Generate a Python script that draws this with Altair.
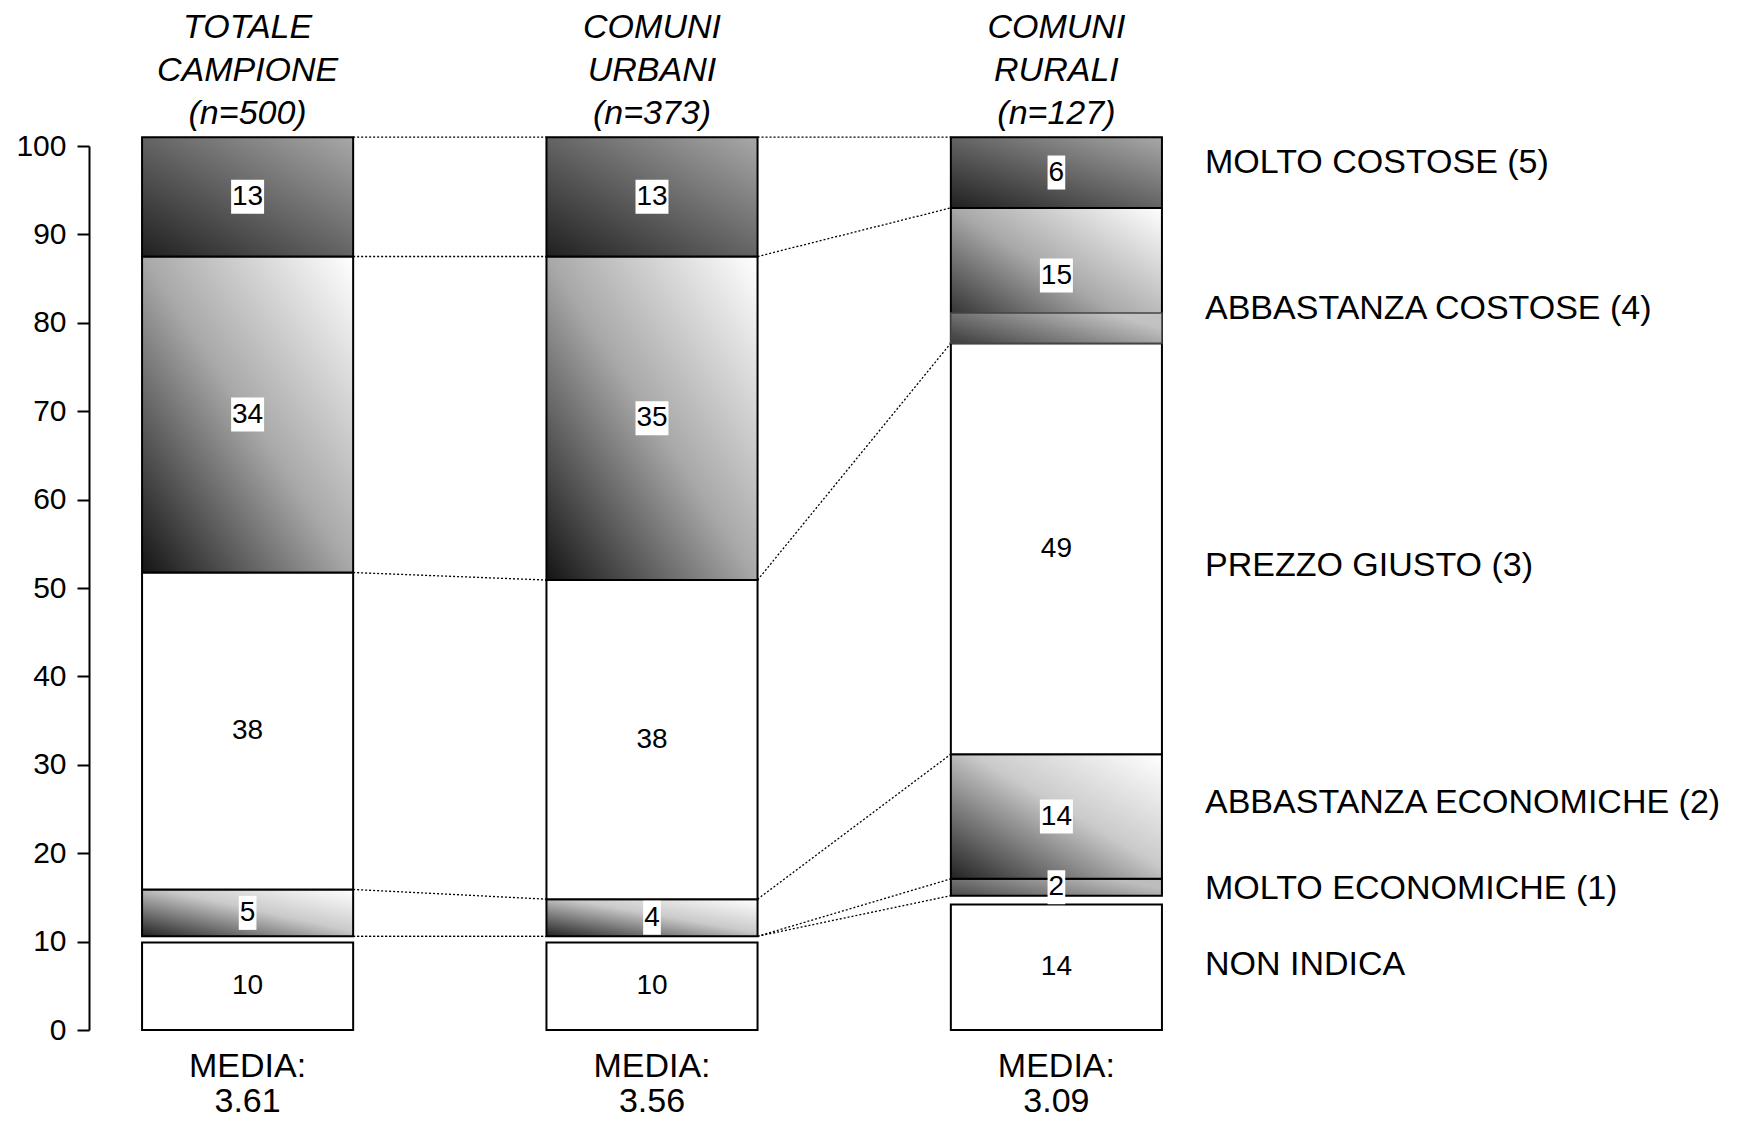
import altair as alt
import pandas as pd

# ---------------- data ----------------
col_keys = ["totale", "urbani", "rurali"]
col_titles = ["TOTALE\nCAMPIONE\n(n=500)", "COMUNI\nURBANI\n(n=373)", "COMUNI\nRURALI\n(n=127)"]
medie = ["MEDIA:\n3.61", "MEDIA:\n3.56", "MEDIA:\n3.09"]

categories = [
    "NON INDICA",
    "MOLTO ECONOMICHE (1)",
    "ABBASTANZA ECONOMICHE (2)",
    "PREZZO GIUSTO (3)",
    "ABBASTANZA COSTOSE (4)",
    "MOLTO COSTOSE (5)",
]

# percentages printed in each segment (None = segment not shown)
values_totale = [10, None, 5, 38, 34, 13]
values_urbani = [10, None, 4, 38, 35, 13]
values_rurali = [14, 2, 14, 49, 15, 6]

# segment extents on the 0-100 scale as drawn in the original
bottom_totale = [0, 10.6, 10.6, 15.9, 51.75, 87.5]
top_totale = [9.9, 10.6, 15.9, 51.75, 87.5, 101]
bottom_urbani = [0, 10.6, 10.6, 14.8, 50.9, 87.5]
top_urbani = [9.9, 10.6, 14.8, 50.9, 87.5, 101]
bottom_rurali = [0, 15.2, 17.1, 31.2, 77.7, 93]
top_rurali = [14.2, 17.1, 31.2, 77.7, 93, 101]

# darker band drawn over the lower part of the rural "costose" segment
overlap_band = {"col": "rurali", "lo": 77.7, "hi": 81.1}

# vertical position of the category names on the right
legend_y = [7.3, 16.0, 25.7, 52.5, 81.6, 98.1]

# ---------------- tables ----------------
vals = [values_totale, values_urbani, values_rurali]
bots = [bottom_totale, bottom_urbani, bottom_rurali]
tops = [top_totale, top_urbani, top_rurali]

seg_rows = []
for k, v, b, t in zip(col_keys, vals, bots, tops):
    for c, vv, bb, tt in zip(categories, v, b, t):
        seg_rows.append({"col": k, "cat": c, "value": vv, "lo": bb, "hi": tt, "mid": (bb + tt) / 2})
seg_df = pd.DataFrame(seg_rows)

conn_rows = []
for i in range(len(col_keys) - 1):
    for ci in range(1, len(categories)):
        conn_rows.append({"src": col_keys[i], "dst": col_keys[i + 1], "y1": tops[i][ci], "y2": tops[i + 1][ci]})
    conn_rows.append({"src": col_keys[i], "dst": col_keys[i + 1], "y1": bots[i][1], "y2": bots[i + 1][1]})
conn_df = pd.DataFrame(conn_rows)

col_df = pd.DataFrame({"col": col_keys, "title": col_titles, "media": medie})
leg_df = pd.DataFrame({"label": categories, "ypos": legend_y})
band_df = pd.DataFrame([overlap_band])

# ---------------- styles ----------------
FONT = "Liberation Sans"


def grad(stops, x1=0, y1=1, x2=1, y2=0):
    return alt.LinearGradient(
        gradient="linear",
        stops=[alt.GradientStop(color=c, offset=o) for o, c in stops],
        x1=x1, y1=y1, x2=x2, y2=y2,
    )


fills = {
    "NON INDICA": "white",
    "MOLTO ECONOMICHE (1)": grad([(0, "#4a4a4a"), (1, "#bdbdbd")], 0, 1, 1, 0.6),
    "ABBASTANZA ECONOMICHE (2)": grad([(0, "#222222"), (0.55, "#cacaca"), (1, "#ffffff")]),
    "PREZZO GIUSTO (3)": "white",
    "ABBASTANZA COSTOSE (4)": grad([(0, "#141414"), (0.5, "#a8a8a8"), (1, "#ffffff")]),
    "MOLTO COSTOSE (5)": grad([(0, "#202020"), (1, "#a8a8a8")]),
}

xscale = alt.Scale(domain=col_keys, paddingInner=0.478, paddingOuter=0.104)
yscale = alt.Scale(domain=[0, 100], nice=False, zero=True)
yax = alt.Axis(
    values=list(range(0, 101, 10)), offset=11, tickSize=12, tickWidth=2,
    domainWidth=2, domainColor="black", tickColor="black", labelColor="black",
    labelFont=FONT, labelFontSize=30, labelPadding=11, grid=False,
    labelFlush=False, labelOverlap=False, title=None,
)
X = alt.X("col:N", scale=xscale, axis=None)


def Y(field):
    return alt.Y(field, scale=yscale, axis=yax, title=None)


# ---------------- layers ----------------
connectors = alt.Chart(conn_df).mark_rule(
    color="black", strokeWidth=1.3, strokeDash=[2, 2]
).encode(
    x=alt.X("src:N", scale=xscale, axis=None, bandPosition=1),
    x2=alt.X2("dst:N", bandPosition=0),
    y=Y("y1:Q"),
    y2="y2:Q",
)

bar_layers = []
for cat in categories:
    bar_layers.append(
        alt.Chart(seg_df)
        .transform_filter(alt.FieldEqualPredicate(field="cat", equal=cat))
        .transform_filter("isValid(datum.value)")
        .mark_bar(fill=fills[cat], stroke="black", strokeWidth=2)
        .encode(x=X, y=Y("lo:Q"), y2="hi:Q")
    )

band = alt.Chart(band_df).mark_bar(
    fill=grad([(0, "#3c3c3c"), (1, "#c2c2c2")], 0, 1, 1, 0.5), stroke="#444", strokeWidth=1.5
).encode(x=X, y=Y("lo:Q"), y2="hi:Q")

box2 = alt.Chart(seg_df).transform_filter("isValid(datum.value) && datum.value >= 10").mark_point(
    shape="M-0.97,-1H0.97V1H-0.97Z", size=34 * 34, filled=True, fill="white", opacity=1, strokeWidth=0
).encode(x=X, y=Y("mid:Q"))

box1 = alt.Chart(seg_df).transform_filter("isValid(datum.value) && datum.value < 10").mark_point(
    shape="M-0.52,-1H0.52V1H-0.52Z", size=34 * 34, filled=True, fill="white", opacity=1, strokeWidth=0
).encode(x=X, y=Y("mid:Q"))

seg_text = alt.Chart(seg_df).transform_filter("isValid(datum.value)").mark_text(
    font=FONT, fontSize=28, color="black", baseline="middle", align="center"
).encode(x=X, y=Y("mid:Q"), text=alt.Text("value:Q", format="d"))

titles = alt.Chart(col_df).mark_text(
    font=FONT, fontSize=34, fontStyle="italic", color="black", lineBreak="\n",
    lineHeight=43, baseline="middle", align="center",
).encode(x=X, y=alt.value(-118), text="title:N")

media = alt.Chart(col_df).mark_text(
    font=FONT, fontSize=34, color="black", lineBreak="\n",
    lineHeight=35, baseline="middle", align="center",
).encode(x=X, y=alt.value(921), text="media:N")

legend = alt.Chart(leg_df).mark_text(
    font=FONT, fontSize=34, color="black", baseline="middle", align="left"
).encode(x=alt.value(1105), y=Y("ypos:Q"), text="label:N")

chart = alt.layer(
    connectors, *bar_layers, band, box2, box1, seg_text, titles, media, legend
).properties(
    width=1104,
    height=884,
    autosize=alt.AutoSizeParams(type="none"),
    padding={"left": 100, "top": 146, "right": 533, "bottom": 91},
    background="white",
).configure_view(stroke=None)

chart.save("out.html", embed_options={"renderer": "svg", "actions": False})
